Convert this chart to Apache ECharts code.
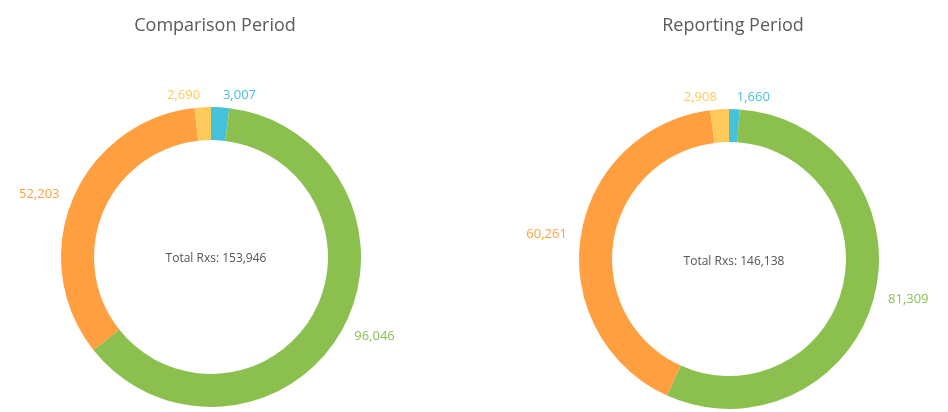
<!DOCTYPE html>
<html>
<head>
<meta charset="utf-8">
<script src="https://cdn.jsdelivr.net/npm/echarts@6/dist/echarts.min.js"></script>
<style>
  html, body { margin: 0; padding: 0; background: #fff; }
  #main { width: 948px; height: 412px; }
</style>
</head>
<body>
<div id="main"></div>
<script>
// segment order, clockwise from 12 o'clock
var segments = ['Blue', 'Green', 'Orange', 'Yellow'];
var colors = ['#45c1d9', '#8bc04f', '#ff9f3f', '#ffca5c'];
var comparisonValues = [3007, 96046, 52203, 2690];
var reportingValues = [1660, 81309, 60261, 2908];
var chartTitles = ['Comparison Period', 'Reporting Period'];
var totalLabels = ['Total Rxs: 153,946', 'Total Rxs: 146,138'];

var chartDom = document.getElementById('main');
var myChart = echarts.init(chartDom);
var font = '"Open Sans", "Noto Sans", sans-serif';

function makeData(values) {
  return values.map(function (v, i) {
    return {
      name: segments[i],
      value: v,
      itemStyle: { color: colors[i] },
      label: { color: colors[i] }
    };
  });
}

function makeSeries(values, center) {
  return {
    type: 'pie',
    center: center,
    radius: [117, 150],
    startAngle: 90,
    clockwise: true,
    avoidLabelOverlap: false,
    silent: true,
    label: {
      show: true,
      position: 'outside',
      fontFamily: font,
      fontSize: 13,
      distanceToLabelLine: 2,
      formatter: function (p) { return p.value.toLocaleString('en-US'); }
    },
    labelLine: { show: false, length: 12, length2: 0 },
    data: makeData(values)
  };
}

var option = {
  animation: false,
  title: [
    { text: chartTitles[0], left: 210, top: 12, textAlign: 'center',
      textStyle: { fontFamily: font, fontSize: 18, fontWeight: 'normal', color: '#5a5a5a' } },
    { text: chartTitles[1], left: 728, top: 12, textAlign: 'center',
      textStyle: { fontFamily: font, fontSize: 18, fontWeight: 'normal', color: '#5a5a5a' } },
    { text: totalLabels[0], left: 211, top: 248, textAlign: 'center',
      textStyle: { fontFamily: font, fontSize: 12, fontWeight: 'normal', color: '#555' } },
    { text: totalLabels[1], left: 729, top: 251, textAlign: 'center',
      textStyle: { fontFamily: font, fontSize: 12, fontWeight: 'normal', color: '#555' } }
  ],
  series: [
    makeSeries(comparisonValues, [211, 257]),
    makeSeries(reportingValues, [729, 259])
  ]
};

option && myChart.setOption(option);
</script>
</body>
</html>
